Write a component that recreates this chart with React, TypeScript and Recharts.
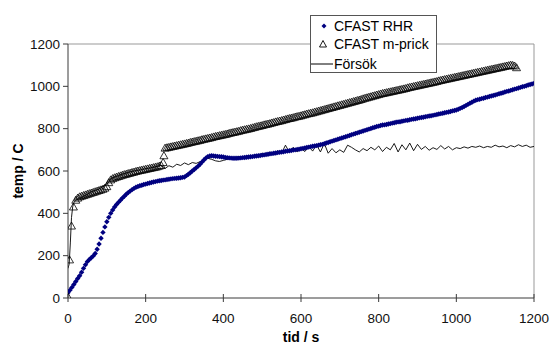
import React from 'react';
import { LineChart, Line, XAxis, YAxis, ReferenceLine, Label } from 'recharts';

// CFAST RHR (blue diamonds), read every 5 s
const rhrTime = [
  0, 5, 10, 15, 20, 25, 30, 35, 40, 45,
  50, 55, 60, 65, 70, 75, 80, 85, 90, 95,
  100, 105, 110, 115, 120, 125, 130, 135, 140, 145,
  150, 155, 160, 165, 170, 175, 180, 185, 190, 195,
  200, 205, 210, 215, 220, 225, 230, 235, 240, 245,
  250, 255, 260, 265, 270, 275, 280, 285, 290, 295,
  300, 305, 310, 315, 320, 325, 330, 335, 340, 345,
  350, 355, 360, 365, 370, 375, 380, 385, 390, 395,
  400, 405, 410, 415, 420, 425, 430, 435, 440, 445,
  450, 455, 460, 465, 470, 475, 480, 485, 490, 495,
  500, 505, 510, 515, 520, 525, 530, 535, 540, 545,
  550, 555, 560, 565, 570, 575, 580, 585, 590, 595,
  600, 605, 610, 615, 620, 625, 630, 635, 640, 645,
  650, 655, 660, 665, 670, 675, 680, 685, 690, 695,
  700, 705, 710, 715, 720, 725, 730, 735, 740, 745,
  750, 755, 760, 765, 770, 775, 780, 785, 790, 795,
  800, 805, 810, 815, 820, 825, 830, 835, 840, 845,
  850, 855, 860, 865, 870, 875, 880, 885, 890, 895,
  900, 905, 910, 915, 920, 925, 930, 935, 940, 945,
  950, 955, 960, 965, 970, 975, 980, 985, 990, 995,
  1000, 1005, 1010, 1015, 1020, 1025, 1030, 1035, 1040, 1045,
  1050, 1055, 1060, 1065, 1070, 1075, 1080, 1085, 1090, 1095,
  1100, 1105, 1110, 1115, 1120, 1125, 1130, 1135, 1140, 1145,
  1150, 1155, 1160, 1165, 1170, 1175, 1180, 1185, 1190, 1195,
  1200,
];
const rhrTemp = [
  25, 37, 50, 64, 78, 92, 105, 122, 140, 157,
  172, 182, 190, 199, 210, 230, 255, 282, 310, 336,
  360, 381, 400, 416, 430, 442, 452, 462, 472, 481,
  490, 498, 505, 512, 518, 523, 527, 530, 533, 536,
  538, 541, 543, 546, 548, 550, 552, 554, 555, 557,
  558, 560, 561, 563, 564, 565, 566, 567, 568, 570,
  572, 578, 585, 592, 600, 607, 615, 623, 632, 642,
  652, 661, 668, 671, 672, 671, 670, 669, 668, 667,
  666, 664, 663, 662, 661, 660, 660, 660, 661, 662,
  663, 664, 665, 666, 667, 668, 670, 671, 672, 673,
  675, 676, 678, 679, 681, 682, 684, 685, 687, 688,
  690, 691, 693, 694, 696, 697, 699, 700, 702, 703,
  705, 707, 709, 711, 713, 715, 717, 718, 720, 722,
  724, 726, 729, 732, 735, 738, 741, 744, 747, 750,
  753, 756, 759, 762, 765, 768, 771, 774, 777, 780,
  783, 786, 789, 792, 795, 798, 801, 804, 807, 810,
  812, 815, 817, 818, 820, 822, 824, 826, 828, 830,
  832, 833, 835, 837, 839, 840, 842, 844, 846, 847,
  849, 851, 853, 854, 856, 858, 860, 861, 863, 865,
  867, 869, 871, 873, 875, 877, 879, 881, 884, 886,
  888, 892, 896, 900, 905, 910, 915, 920, 925, 930,
  934, 937, 939, 942, 944, 947, 949, 952, 954, 957,
  959, 962, 965, 967, 970, 973, 976, 978, 981, 984,
  987, 989, 992, 995, 998, 1000, 1003, 1006, 1009, 1011,
  1014,
];

// CFAST m-prick (open triangles)
const mTime = [
  0, 4, 9, 14,
  20, 25, 30, 35, 40, 45, 50, 55, 60, 65,
  70, 75, 80, 85, 90, 95, 100, 105, 110, 115,
  120, 125, 130, 135, 140, 145, 150, 155, 160, 165,
  170, 175, 180, 185, 190, 195, 200, 205, 210, 215,
  220, 225, 230, 235, 240, 245, 247,
  250, 255, 260, 265, 270, 275, 280, 285, 290, 295,
  300, 305, 310, 315, 320, 325, 330, 335, 340, 345,
  350, 355, 360, 365, 370, 375, 380, 385, 390, 395,
  400, 405, 410, 415, 420, 425, 430, 435, 440, 445,
  450, 455, 460, 465, 470, 475, 480, 485, 490, 495,
  500, 505, 510, 515, 520, 525, 530, 535, 540, 545,
  550, 555, 560, 565, 570, 575, 580, 585, 590, 595,
  600, 605, 610, 615, 620, 625, 630, 635, 640, 645,
  650, 655, 660, 665, 670, 675, 680, 685, 690, 695,
  700, 705, 710, 715, 720, 725, 730, 735, 740, 745,
  750, 755, 760, 765, 770, 775, 780, 785, 790, 795,
  800, 805, 810, 815, 820, 825, 830, 835, 840, 845,
  850, 855, 860, 865, 870, 875, 880, 885, 890, 895,
  900, 905, 910, 915, 920, 925, 930, 935, 940, 945,
  950, 955, 960, 965, 970, 975, 980, 985, 990, 995,
  1000, 1005, 1010, 1015, 1020, 1025, 1030, 1035, 1040, 1045,
  1050, 1055, 1060, 1065, 1070, 1075, 1080, 1085, 1090, 1095,
  1100, 1105, 1110, 1115, 1120, 1125, 1130, 1135, 1140, 1145,
  1150, 1155,
];
const mTemp = [
  5, 180, 340, 430,
  462, 472, 478, 481, 484, 487, 490, 493, 496, 499,
  502, 505, 508, 511, 514, 519, 526, 545, 558, 564,
  568, 571, 574, 577, 580, 583, 585, 588, 590, 593,
  595, 598, 600, 602, 604, 606, 608, 610, 612, 614,
  616, 618, 620, 623, 626, 640, 672,
  708, 710, 712, 714, 716, 718, 720, 722, 724, 726,
  728, 730, 732, 735, 737, 739, 741, 743, 745, 748,
  750, 752, 754, 756, 758, 761, 763, 765, 767, 769,
  771, 773, 775, 778, 780, 782, 784, 786, 788, 791,
  793, 795, 797, 799, 801, 804, 806, 809, 811, 813,
  815, 818, 820, 822, 824, 827, 829, 832, 834, 836,
  838, 841, 843, 846, 848, 850, 852, 855, 857, 859,
  861, 864, 866, 869, 871, 873, 875, 878, 880, 883,
  885, 888, 890, 893, 895, 898, 900, 903, 905, 908,
  910, 913, 915, 918, 920, 923, 925, 928, 930, 933,
  935, 938, 941, 944, 946, 949, 951, 954, 956, 959,
  961, 964, 966, 968, 970, 972, 974, 976, 978, 980,
  982, 984, 986, 988, 990, 993, 995, 997, 999, 1001,
  1003, 1005, 1007, 1009, 1011, 1013, 1015, 1017, 1019, 1021,
  1023, 1026, 1028, 1030, 1032, 1034, 1036, 1038, 1040, 1042,
  1044, 1046, 1048, 1050, 1052, 1054, 1056, 1058, 1060, 1062,
  1064, 1066, 1068, 1070, 1072, 1074, 1076, 1078, 1080, 1082,
  1084, 1086, 1088, 1090, 1092, 1094, 1096, 1098, 1100, 1099,
  1096, 1088,
];

// Försök (measured, thin line)
const expTime = [
  0, 3, 6, 9, 12, 15, 20, 30, 40, 50, 60, 70, 80, 90,
  100, 110, 120, 130, 140, 150, 160, 170, 180, 190,
  200, 210, 220, 230, 240, 250, 260, 270, 280, 290,
  300, 310, 320, 330, 340, 350, 360, 370, 380, 390,
  400, 410, 420, 430, 440, 450, 460, 470, 480, 490,
  500, 510, 520, 530, 540, 550, 560, 570, 580, 590,
  600, 610, 620, 630, 640, 650, 660, 670, 680, 690,
  700, 710, 720, 730, 740, 750, 760, 770, 780, 790,
  800, 810, 820, 830, 840, 850, 860, 870, 880, 890,
  900, 910, 920, 930, 940, 950, 960, 970, 980, 990,
  1000, 1010, 1020, 1030, 1040, 1050, 1060, 1070, 1080, 1090,
  1100, 1110, 1120, 1130, 1140, 1150, 1160, 1170, 1180, 1190,
  1200,
];
const expTemp = [
  140, 160, 260, 380, 430, 450, 462, 472, 480, 490, 502, 508, 515, 528,
  535, 562, 572, 578, 585, 590, 596, 600, 603, 607,
  611, 614, 618, 622, 626, 612, 625, 618, 632, 626,
  638, 630, 640, 636, 644, 652, 660, 655, 648, 645,
  650, 655, 660, 662, 668, 662, 672, 666, 676, 670,
  684, 676, 690, 680, 696, 684, 722, 688, 712, 690,
  706, 692, 716, 694, 724, 690, 730, 684, 706, 686,
  700, 688, 722, 712, 700, 690, 706, 696, 712, 700,
  718, 692, 712, 700, 730, 690, 724, 700, 732, 696,
  726, 702, 716, 698, 710, 702, 720, 704, 716, 700,
  710, 706, 714, 708, 716, 712, 718, 710, 716, 712,
  722, 714, 718, 710, 720, 714, 724, 716, 722, 712,
  716,
];

const xTicks = [0, 200, 400, 600, 800, 1000, 1200];
const yTicks = [0, 200, 400, 600, 800, 1000, 1200];

const rhrData = rhrTime.map((t, i) => ({ t, v: rhrTemp[i] }));
const mData = mTime.map((t, i) => ({ t, v: mTemp[i] }));
const expData = expTime.map((t, i) => ({ t, v: expTemp[i] }));

const FONT = 'Arial, "Liberation Sans", sans-serif';
const NAVY = '#000080';
const AXIS = '#3a3a3a';

const Diamond = (props: any) => {
  const { cx, cy, index } = props;
  if (cx == null || cy == null) return <g key={`d${index}`} />;
  const r = 2.7;
  return (
    <polygon
      key={`d${index}`}
      points={`${cx},${cy - r} ${cx + r},${cy} ${cx},${cy + r} ${cx - r},${cy}`}
      fill={NAVY}
      stroke="none"
    />
  );
};

// hollow (unfilled) triangle marker, overlaps into a dark band where dense
const Triangle = (props: any) => {
  const { cx, cy, index } = props;
  if (cx == null || cy == null) return <g key={`t${index}`} />;
  return (
    <polygon
      key={`t${index}`}
      points={`${cx},${cy - 4} ${cx + 4},${cy + 3} ${cx - 4},${cy + 3}`}
      fill="none"
      stroke="#000"
      strokeWidth={0.8}
    />
  );
};

// x ticks cross the axis line, like the original
const XTick = (props: any) => {
  const { x, y, payload } = props;
  const axisY = y - 15;
  return (
    <g>
      <line x1={x} x2={x} y1={axisY - 4} y2={axisY + 4} stroke={AXIS} />
      <text x={x} y={y} dy="0.71em" textAnchor="middle" fontSize={13.5} fill="#111" fontFamily={FONT}>
        {payload.value}
      </text>
    </g>
  );
};

const LegendBox = () => (
  <div
    style={{
      position: 'absolute',
      left: 310,
      top: 15,
      width: 125,
      height: 56,
      border: '1px solid #555',
      background: '#fff',
      fontFamily: FONT,
      fontSize: 14,
      color: '#000',
    }}
  >
    <svg width={125} height={56} style={{ position: 'absolute', left: 0, top: 0 }}>
      <polygon points="13,7.5 15.5,10 13,12.5 10.5,10" fill={NAVY} />
      <polygon points="12,24.5 15.5,31 8.5,31" fill="none" stroke="#000" strokeWidth={0.9} />
      <line x1={0} x2={22} y1={48} y2={48} stroke="#000" strokeWidth={1} />
      <text x={23} y={15} fontSize={14} fontFamily={FONT}>CFAST RHR</text>
      <text x={23} y={33} fontSize={14} fontFamily={FONT}>CFAST m-prick</text>
      <text x={23} y={53} fontSize={14} fontFamily={FONT}>Försök</text>
    </svg>
  </div>
);

export default function App() {
  return (
    <div style={{ position: 'absolute', left: 0, top: 0, width: 553, height: 347, background: '#fff' }}>
      <LineChart width={553} height={347} margin={{ top: 44, right: 19, left: 0, bottom: 0 }}>
        <XAxis
          type="number"
          dataKey="t"
          domain={[0, 1200]}
          ticks={xTicks}
          allowDataOverflow
          height={49}
          stroke={AXIS}
          tickLine={false}
          tickSize={0}
          tickMargin={15}
          tick={<XTick />}
        >
          <Label
            content={(p: any) => {
              const vb = p.viewBox;
              return (
                <text
                  x={vb.x + vb.width / 2}
                  y={vb.y + 44}
                  textAnchor="middle"
                  fontSize={14}
                  fontWeight="bold"
                  fontFamily={FONT}
                  fill="#000"
                >
                  tid / s
                </text>
              );
            }}
          />
        </XAxis>
        <YAxis
          type="number"
          domain={[0, 1200]}
          ticks={yTicks}
          allowDataOverflow
          width={68}
          stroke={AXIS}
          tickSize={5}
          tickMargin={3}
          tick={{ fontSize: 13.5, fill: '#111', fontFamily: FONT }}
        >
          <Label
            content={(p: any) => {
              const vb = p.viewBox;
              const cx = vb.x + 18;
              const cy = vb.y + vb.height / 2;
              return (
                <text
                  x={cx}
                  y={cy}
                  transform={`rotate(-90, ${cx}, ${cy})`}
                  textAnchor="middle"
                  dominantBaseline="central"
                  fontSize={14}
                  fontWeight="bold"
                  fontFamily={FONT}
                  fill="#000"
                >
                  temp / C
                </text>
              );
            }}
          />
        </YAxis>
        <ReferenceLine y={1200} stroke="#999" strokeWidth={1} />
        <ReferenceLine x={1200} stroke="#999" strokeWidth={1} />
        <Line
          data={rhrData}
          dataKey="v"
          name="CFAST RHR"
          stroke="none"
          dot={(p: any) => <Diamond {...p} key={`d${p.index}`} />}
          activeDot={false}
          isAnimationActive={false}
        />
        <Line
          data={mData}
          dataKey="v"
          name="CFAST m-prick"
          stroke="none"
          dot={(p: any) => <Triangle {...p} key={`t${p.index}`} />}
          activeDot={false}
          isAnimationActive={false}
        />
        <Line
          data={expData}
          dataKey="v"
          name="Försök"
          stroke="#000"
          strokeWidth={0.9}
          dot={false}
          activeDot={false}
          isAnimationActive={false}
        />
      </LineChart>
      <LegendBox />
    </div>
  );
}
